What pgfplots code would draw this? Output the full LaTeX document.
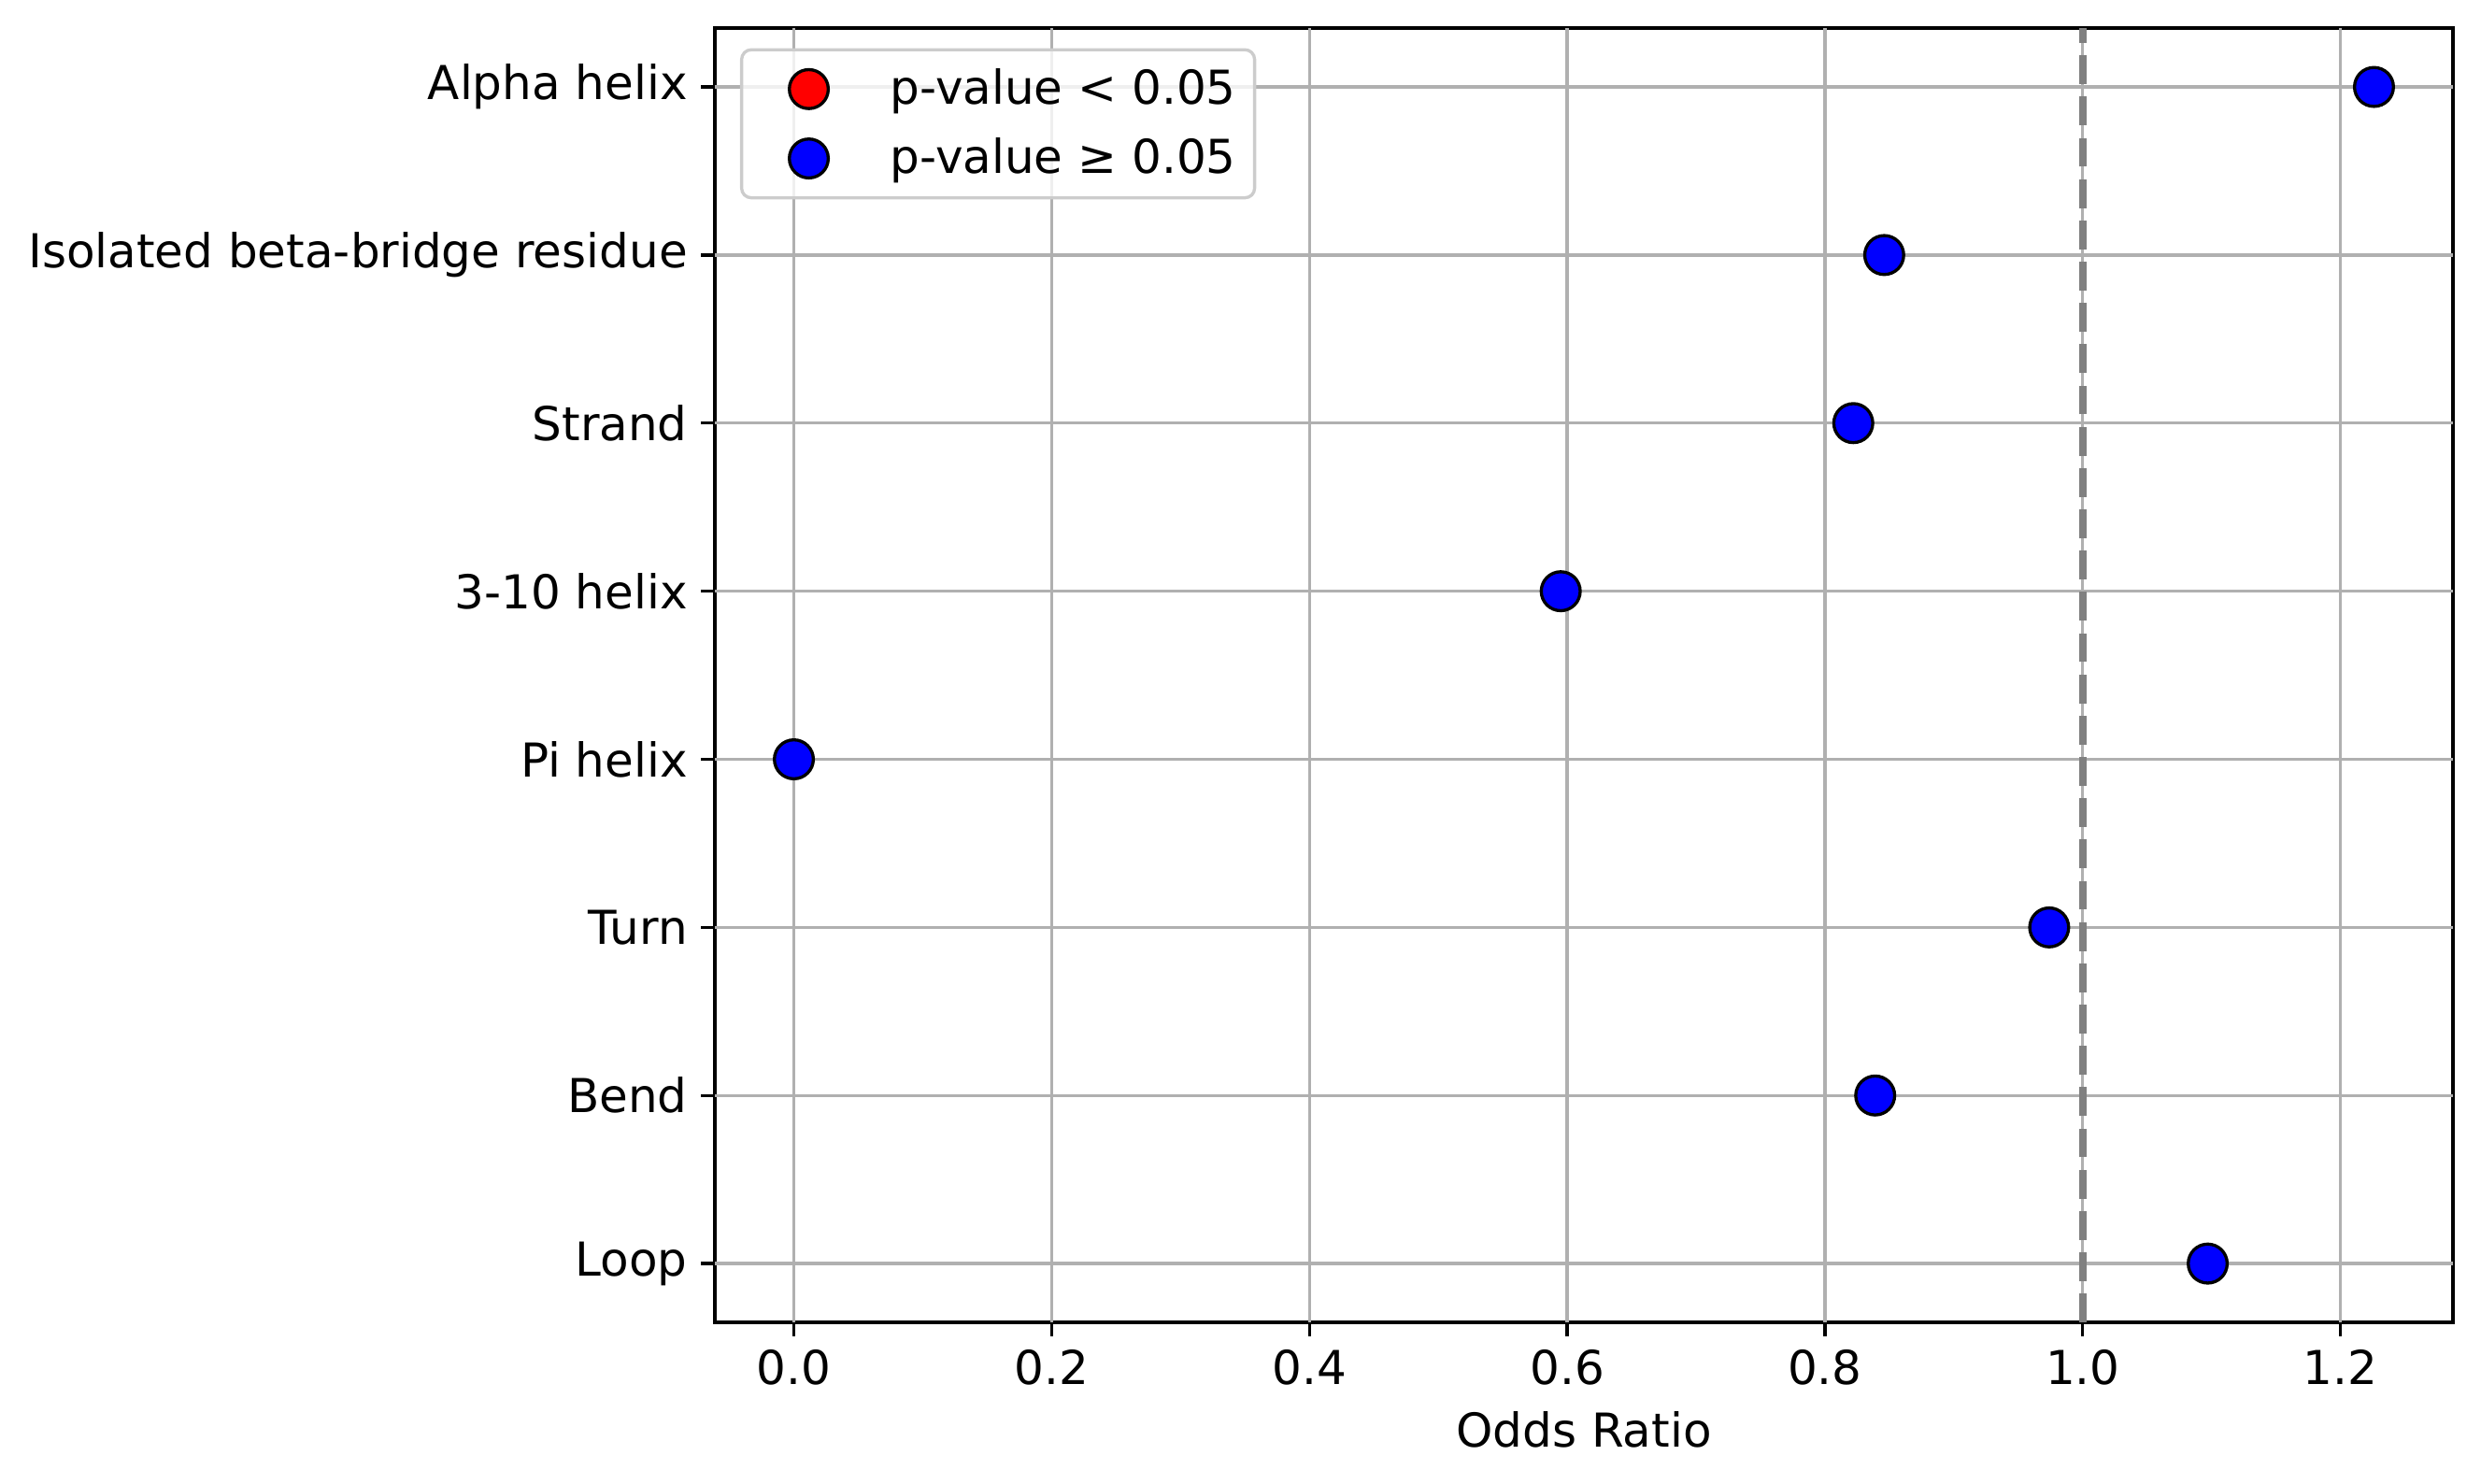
\documentclass[border=0pt]{standalone}
\usepackage{pgfplots}
\pgfplotsset{compat=1.18}
\usepackage{fontspec}
\setmainfont{DejaVu Sans}
\definecolor{gridgray}{HTML}{B0B0B0}
\definecolor{refgray}{HTML}{808080}
\definecolor{legedge}{HTML}{CCCCCC}
\begin{document}
\begin{tikzpicture}
\useasboundingbox (0,0) rectangle (637.2pt,380.9pt);
\begin{axis}[
  at={(183.6pt,41.28pt)}, anchor=south west,
  scale only axis, width=446.4pt, height=332.4pt,
  xmin=-0.0613, xmax=1.2873, ymin=-0.35, ymax=7.35,
  xtick={0,0.2,0.4,0.6,0.8,1.0,1.2},
  ytick={0,1,2,3,4,5,6,7},
  yticklabels={Loop,Bend,Turn,Pi helix,3-10 helix,Strand,Isolated beta-bridge residue,Alpha helix},
  xticklabel style={/pgf/number format/fixed,/pgf/number format/fixed zerofill,/pgf/number format/precision=1},
  /pgf/number format/assume math mode=true,
  tick label style={font=\fontsize{12}{14}\selectfont},
  label style={font=\fontsize{12}{14}\selectfont},
  xlabel={Odds Ratio},
  tick align=outside, major tick length=3.5pt,
  tick style={black, line width=0.8pt},
  xtick pos=bottom, ytick pos=left,
  axis line style={line width=0.8pt},
  grid=major, grid style={gridgray, line width=0.8pt},
  legend style={at={(0.0145,0.9845)}, anchor=north west, draw=legedge, line width=0.8pt, rounded corners=2.5pt, fill=white, fill opacity=0.8, text opacity=1, font=\fontsize{12}{14}\selectfont, inner xsep=2.8pt, inner ysep=2.8pt, row sep=3.2pt, nodes={inner sep=2pt}},
  legend cell align=left,
  legend image code/.code={\draw[#1, mark size=5pt, line width=0.8pt, fill opacity=1, draw opacity=1] plot coordinates {(0.35cm+4.1pt,0cm)};\path (0,0) (1.0cm+4.1pt,0);},
]
\addlegendimage{only marks, mark=*, mark options={fill=red, draw=black, fill opacity=1, draw opacity=1}}
\addlegendentry{p-value < 0.05}
\addplot[only marks, mark=*, mark size=5pt, mark options={fill=blue, draw=black, line width=0.8pt, fill opacity=1, draw opacity=1}] coordinates {
  (1.226,7) (0.846,6) (0.822,5) (0.595,4) (0.0,3) (0.974,2) (0.839,1) (1.097,0)
};
\addlegendentry{p-value ≥ 0.05}
% grid lines redrawn over the markers, as in the reference
\pgfplotsinvokeforeach{0,1,2,3,4,5,6,7}{
  \addplot[gridgray, line width=0.8pt, forget plot] coordinates {(-0.0613,#1) (1.2873,#1)};
}
\pgfplotsinvokeforeach{0,0.2,0.4,0.6,0.8,1.0,1.2}{
  \addplot[gridgray, line width=0.8pt, forget plot] coordinates {(#1,-0.35) (#1,7.35)};
}
\addplot[refgray, line width=2pt, dash pattern=on 7.4pt off 3.2pt, forget plot] coordinates {(1,-0.35) (1,7.35)};
\end{axis}
\end{tikzpicture}
\end{document}
